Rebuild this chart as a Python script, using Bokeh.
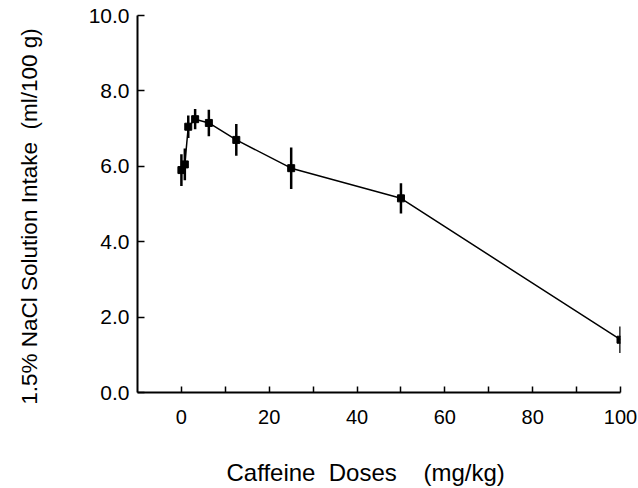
from bokeh.plotting import figure
from bokeh.models import Range1d, FixedTicker, PrintfTickFormatter, ColumnDataSource
from bokeh.embed import file_html
from bokeh.resources import INLINE

# Data
doses = [0, 0.78, 1.56, 3.125, 6.25, 12.5, 25, 50, 100]
intake = [5.9, 6.05, 7.05, 7.25, 7.15, 6.7, 5.95, 5.15, 1.4]
sem = [0.42, 0.42, 0.3, 0.27, 0.35, 0.42, 0.55, 0.4, 0.35]

x_major = [0, 20, 40, 60, 80, 100]
x_minor = [10, 30, 50, 70, 90]
y_ticks = [0, 2, 4, 6, 8, 10]

NB = "\u00a0"
# trailing non-breaking spaces shift the centred titles slightly, as in the reference
x_title = "Caffeine" + NB * 2 + "Doses" + NB * 4 + "(mg/kg)" + NB * 4
y_title = "1.5% NaCl Solution Intake" + NB * 2 + "(ml/100 g)" + NB * 4

src = ColumnDataSource(dict(
    x=doses, y=intake,
    lo=[v - e for v, e in zip(intake, sem)],
    hi=[v + e for v, e in zip(intake, sem)],
))

FONT = "Liberation Sans"

p = figure(width=638, height=488, output_backend="svg", toolbar_location=None,
           x_range=Range1d(-10, 100), y_range=Range1d(0, 10),
           min_border_left=137, min_border_right=18, min_border_top=15, min_border_bottom=96)
p.outline_line_color = None
p.grid.visible = False
p.background_fill_color = "white"
p.border_fill_color = "white"

p.segment(x0="x", y0="lo", x1="x", y1="hi", source=src, line_color="black", line_width=2.5)
p.line(x="x", y="y", source=src, line_color="black", line_width=1.5)
p.scatter(x="x", y="y", source=src, marker="square", size=7, fill_color="black", line_color="black")

xa = p.xaxis[0]
xa.ticker = FixedTicker(ticks=x_major, minor_ticks=x_minor)
xa.axis_label = x_title
xa.axis_line_width = 2
xa.axis_line_color = "black"
xa.major_tick_in = 6
xa.major_tick_out = 0
xa.minor_tick_in = 6
xa.minor_tick_out = 0
xa.major_tick_line_width = 1.5
xa.minor_tick_line_width = 1.5
xa.major_tick_line_color = "black"
xa.minor_tick_line_color = "black"
xa.major_label_text_font = FONT
xa.major_label_text_font_size = "20px"
xa.major_label_text_color = "black"
xa.major_label_standoff = 17
xa.axis_label_text_font = FONT
xa.axis_label_text_font_size = "24px"
xa.axis_label_text_font_style = "normal"
xa.axis_label_text_color = "black"
xa.axis_label_standoff = 32

ya = p.yaxis[0]
ya.ticker = FixedTicker(ticks=y_ticks)
ya.formatter = PrintfTickFormatter(format="%.1f")
ya.axis_label = y_title
ya.axis_line_width = 2
ya.axis_line_color = "black"
ya.major_tick_in = 7
ya.major_tick_out = 0
ya.minor_tick_line_color = None
ya.major_tick_line_width = 1.5
ya.major_tick_line_color = "black"
ya.major_label_text_font = FONT
ya.major_label_text_font_size = "21px"
ya.major_label_text_color = "black"
ya.major_label_standoff = 8
ya.axis_label_text_font = FONT
ya.axis_label_text_font_size = "22.5px"
ya.axis_label_text_font_style = "normal"
ya.axis_label_text_color = "black"
ya.axis_label_standoff = 44

open("out.html", "w").write(file_html(p, INLINE))
